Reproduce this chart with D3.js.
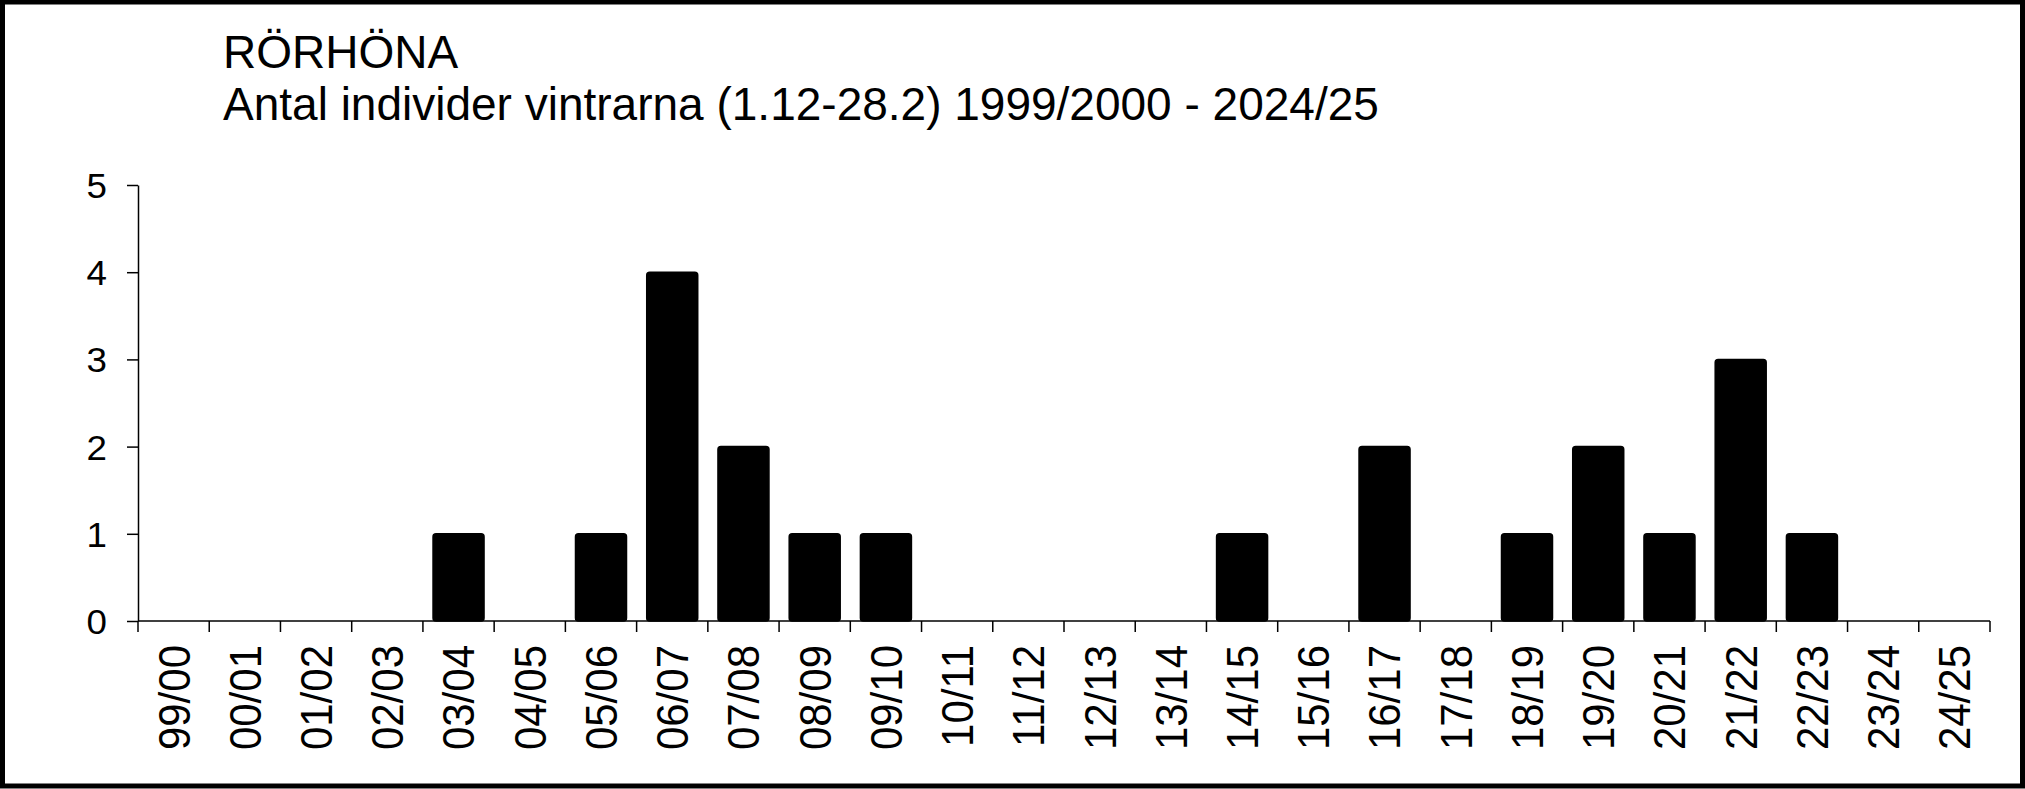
<!DOCTYPE html>
<html>
<head>
<meta charset="utf-8">
<script src="https://cdn.jsdelivr.net/npm/d3@7"></script>
<style>
  body { margin: 0; background: #fff; }
  svg { display: block; font-family: "Liberation Sans", Arial, sans-serif; }
</style>
</head>
<body>
<div id="svganchor"></div>
<script>
/*
------------------------------
DATA: winters and number of individuals
------------------------------
*/
let seasons = ["99/00", "00/01", "01/02", "02/03", "03/04", "04/05", "05/06", "06/07",
  "07/08", "08/09", "09/10", "10/11", "11/12", "12/13", "13/14", "14/15", "15/16",
  "16/17", "17/18", "18/19", "19/20", "20/21", "21/22", "22/23", "23/24", "24/25"];
let counts = [0, 0, 0, 0, 1, 0, 1, 4, 2, 1, 1, 0, 0, 0, 0, 1, 0, 2, 0, 1, 2, 1, 3, 1, 0, 0];
let yTicks = [0, 1, 2, 3, 4, 5];

let titleText = "RÖRHÖNA";
let subtitleText = "Antal individer vintrarna (1.12-28.2) 1999/2000 - 2024/25";

/*
------------------------------
METHOD: canvas size
------------------------------
*/
let width = 2025;
let height = 789;
let margin = ({top: 185, right: 35, bottom: 168, left: 138});

let svg = d3.select("#svganchor")
  .append("svg")
  .attr("width", width)
  .attr("height", height);

// outer frame
svg.append("rect")
  .attr("x", 2.5)
  .attr("y", 2)
  .attr("width", 2020)
  .attr("height", 784)
  .attr("fill", "none")
  .attr("stroke", "#000")
  .attr("stroke-width", 5);

// titles
svg.append("text")
  .attr("x", 223)
  .attr("y", 68)
  .attr("font-size", 46)
  .attr("fill", "#000")
  .text(titleText);

svg.append("text")
  .attr("x", 223)
  .attr("y", 120)
  .attr("font-size", 46)
  .attr("fill", "#000")
  .text(subtitleText);

/*
------------------------------
METHOD: scales
------------------------------
*/
let xScale = d3.scaleBand()
  .domain(seasons)
  .range([margin.left, width - margin.right])
  .paddingInner(0.284)
  .paddingOuter(0.142);

let yScale = d3.scaleLinear()
  .domain([0, 5])
  .range([height - margin.bottom, margin.top]);

let y0 = yScale(0);
let step = xScale.step();

/*
------------------------------
METHOD: bars
------------------------------
*/
svg.selectAll(".bar")
  .data(counts.map((v, i) => ({season: seasons[i], value: v})).filter(d => d.value > 0))
  .enter()
  .append("rect")
  .attr("class", "bar")
  .attr("x", d => xScale(d.season))
  .attr("y", d => yScale(d.value))
  .attr("width", xScale.bandwidth())
  .attr("height", d => y0 - yScale(d.value))
  .attr("rx", 3)
  .attr("fill", "#000")
  .attr("stroke", "#000")
  .attr("stroke-width", 1.5);

/*
------------------------------
METHOD: y axis
------------------------------
*/
let yAxis = d3.axisLeft(yScale)
  .tickValues(yTicks)
  .tickFormat(d3.format("d"))
  .tickSize(11)
  .tickPadding(0)
  .tickSizeOuter(0);

let gy = svg.append("g")
  .attr("transform", "translate(" + margin.left + ",0)")
  .call(yAxis);

gy.select(".domain").attr("stroke", "#000").attr("stroke-width", 1.5);
gy.selectAll(".tick line").attr("stroke", "#000").attr("stroke-width", 1.5);
gy.selectAll(".tick text")
  .attr("x", null)
  .attr("dy", null)
  .attr("font-size", 35)
  .attr("fill", "#000")
  .attr("text-anchor", "end")
  .attr("transform", "translate(-31,12.5) scale(1.05,1)");

/*
------------------------------
METHOD: x axis (ticks between categories)
------------------------------
*/
let gx = svg.append("g");

gx.append("line")
  .attr("x1", margin.left)
  .attr("x2", width - margin.right)
  .attr("y1", y0)
  .attr("y2", y0)
  .attr("stroke", "#000")
  .attr("stroke-width", 1.5);

let boundaries = seasons.map(s => xScale(s) - step * xScale.paddingInner() / 2);
boundaries.push(width - margin.right);

gx.selectAll(".xtick")
  .data(boundaries)
  .enter()
  .append("line")
  .attr("class", "xtick")
  .attr("x1", d => d)
  .attr("x2", d => d)
  .attr("y1", y0)
  .attr("y2", y0 + 11)
  .attr("stroke", "#000")
  .attr("stroke-width", 1.5);

gx.selectAll(".xlabel")
  .data(seasons)
  .enter()
  .append("text")
  .attr("class", "xlabel")
  .attr("transform", d => "translate(" + (xScale(d) + xScale.bandwidth() / 2) + "," + (y0 + 24) + ") rotate(-90) scale(1,1.05)")
  .attr("text-anchor", "end")
  .attr("dy", "0.36em")
  .attr("font-size", 42)
  .attr("fill", "#000")
  .text(d => d);
</script>
</body>
</html>
